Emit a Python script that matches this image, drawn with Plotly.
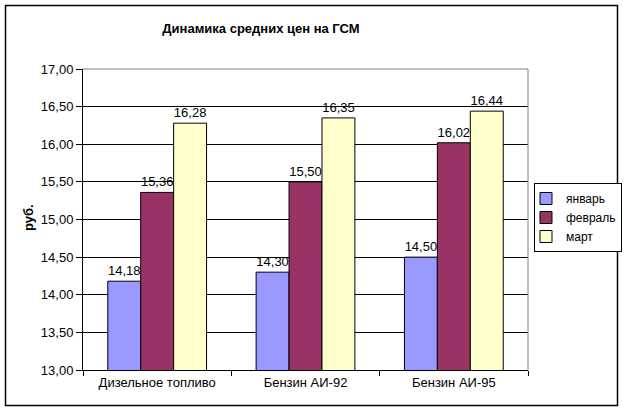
import plotly.graph_objects as go

categories = ["Дизельное топливо", "Бензин АИ-92", "Бензин АИ-95"]
series_names = ["январь", "февраль", "март"]
jan = [14.18, 14.30, 14.50]
feb = [15.36, 15.50, 16.02]
mar = [16.28, 16.35, 16.44]
colors = ["#9999FF", "#993366", "#FFFFCC"]
y_ticks = [13.0, 13.5, 14.0, 14.5, 15.0, 15.5, 16.0, 16.5, 17.0]

W, H = 624, 414
L, R, T, B = 83, 528, 69, 370
FONT = "Liberation Sans, Arial"

fig = go.Figure()
for name, vals, col in zip(series_names, [jan, feb, mar], colors):
    fig.add_trace(go.Bar(
        x=categories, y=vals, name=name,
        marker=dict(color=col, line=dict(color="black", width=1)),
        text=vals, texttemplate="%{y:.2f}", textposition="outside",
        textfont=dict(family=FONT, size=13, color="black"),
        cliponaxis=False,
    ))

def px_x(p):
    return (p - L) / (R - L)

def px_y(p):
    return (B - p) / (B - T)

fig.update_layout(
    width=W, height=H,
    margin=dict(l=L, r=W - R, t=T, b=H - B, autoexpand=False),
    paper_bgcolor="white", plot_bgcolor="white",
    separators=", ",
    barmode="group", bargap=0.334, bargroupgap=0,
    font=dict(family=FONT, size=13, color="black"),
    title=dict(text="<b>Динамика средних цен на ГСМ</b>", x=px_x(261), xref="paper",
               xanchor="center", y=1 - 28 / H, yanchor="middle",
               font=dict(size=13, color="black")),
    showlegend=True,
    legend=dict(x=534 / W, y=1 - 183 / H, xanchor="left", yanchor="top",
                xref="container", yref="container",
                bordercolor="black", borderwidth=1, bgcolor="white",
                font=dict(size=12), itemwidth=30, tracegroupgap=0,
                indentation=-9),
    xaxis=dict(showline=True, linecolor="black", linewidth=1,
               ticks="outside", tickson="boundaries", ticklen=5, tickcolor="black",
               showgrid=False, tickfont=dict(size=13)),
    yaxis=dict(range=[13, 17], tickvals=y_ticks, tickformat=".2f",
               showline=True, linecolor="black", linewidth=1,
               ticks="outside", ticklen=6, tickcolor="black",
               showgrid=True, gridcolor="black", gridwidth=1,
               tickfont=dict(size=13), zeroline=False),
    annotations=[dict(text="<b>руб.</b>", x=px_x(28), y=px_y(218), xref="paper", yref="paper",
                      xanchor="center", yanchor="middle",
                      showarrow=False, textangle=-90, font=dict(size=13, color="black"))],
    shapes=[
        dict(type="rect", xref="paper", yref="paper",
             x0=px_x(5.5), x1=px_x(617.5), y0=px_y(405.5), y1=px_y(5.5),
             line=dict(color="black", width=1.5), layer="above"),
        dict(type="line", xref="paper", yref="paper", x0=0, x1=1, y0=1, y1=1,
             line=dict(color="#808080", width=1)),
        dict(type="line", xref="paper", yref="paper", x0=1, x1=1, y0=0, y1=1,
             line=dict(color="#808080", width=1)),
    ],
)

fig.write_html("out.html")
